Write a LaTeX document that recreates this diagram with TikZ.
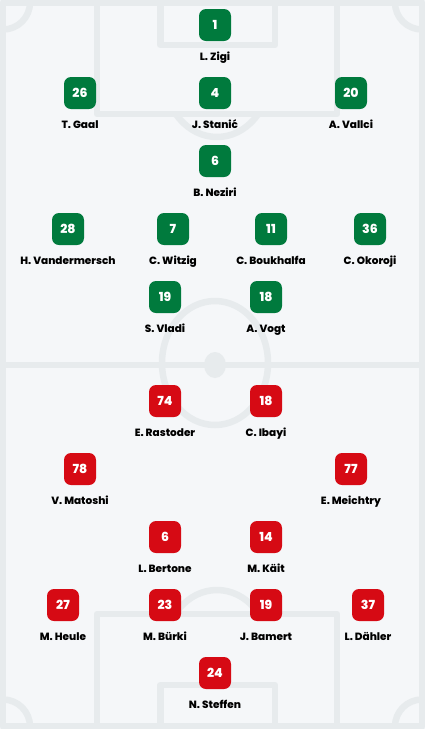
\documentclass[tikz,border=0pt]{standalone}
\usepackage{fontspec}
\setmainfont{Poppins}[BoldFont = {Poppins ExtraBold}]
\usetikzlibrary{positioning}

\definecolor{pitchbg}{RGB}{245,247,249}
\definecolor{pitchline}{RGB}{231,235,237}
\definecolor{homegreen}{RGB}{0,122,61}
\definecolor{awayred}{RGB}{214,10,20}

\begin{document}
\begin{tikzpicture}[x = 1pt, y = -1pt,
	pitch/.style = {draw = pitchline, line width = 6.5pt, line join = round},
	chip/.style = {rounded corners = 7pt, minimum size = 32pt, inner sep = 0pt, text = white, font = \bfseries\fontsize{12.5}{12.5}\selectfont},
	greenchip/.style = {chip, fill = homegreen},
	redchip/.style = {chip, fill = awayred},
	playername/.style = {anchor = base, inner sep = 0pt, font = \bfseries\fontsize{10.5}{10.5}\selectfont}]
	\fill [pitchbg] (0, 0) rectangle (425, 729);
	\useasboundingbox (0, 0) rectangle (425, 729);
	% pitch markings
	\draw [pitch] (3, 2.5) rectangle (422, 726.5);
	\draw [pitch] (3, 365) -- (422, 365);
	\draw [pitch] (215, 363) ellipse [x radius = 53pt, y radius = 62pt];
	\fill [pitchline] (215, 365) ellipse [x radius = 11pt, y radius = 13pt];
	\draw [pitch] (97, 2.5) -- (97, 114) -- (337, 114) -- (337, 2.5);
	\draw [pitch] (160.5, 2.5) -- (160.5, 45) -- (275, 45) -- (275, 2.5);
	\draw [pitch] (97, 726.5) -- (97, 614) -- (337, 614) -- (337, 726.5);
	\draw [pitch] (160.5, 726.5) -- (160.5, 685) -- (275, 685) -- (275, 726.5);
	\begin{scope}
		\clip (0, 114) rectangle (425, 614);
		\draw [pitch] (217, 75) ellipse [x radius = 53pt, y radius = 62pt];
		\draw [pitch] (217, 652) ellipse [x radius = 53pt, y radius = 62pt];
	\end{scope}
	\begin{scope}
		\clip (3, 2.5) rectangle (422, 726.5);
		\draw [pitch] (3, 2.5) circle (27pt);
		\draw [pitch] (422, 2.5) circle (27pt);
		\draw [pitch] (3, 726.5) circle (27pt);
		\draw [pitch] (422, 726.5) circle (27pt);
	\end{scope}
	% home side
	\foreach \id/\x/\y/\num/\name in {g1/215/25/1/L. Zigi, g26/80/93/26/T. Gaal, g4/215/93/4/J. Stanić, g20/351/93/20/A. Vallci, g6/215/161/6/B. Neziri, g28/68/229/28/H. Vandermersch, g7/173/229/7/C. Witzig, g11/271/229/11/C. Boukhalfa, g36/370/229/36/C. Okoroji, g19/165/297/19/S. Vladi, g18/266/297/18/A. Vogt}
	{
		\node [greenchip] (\id) at (\x, \y) {\num};
		\node [playername] (\id-name) at ([yshift = -35pt] \id.center) {\name};
	}
	% away side
	\foreach \id/\x/\y/\num/\name in {r74/165/401/74/E. Rastoder, r18/266/401/18/C. Ibayi, r78/80/469/78/V. Matoshi, r77/351/469/77/E. Meichtry, r6/165/537/6/L. Bertone, r14/266/537/14/M. Käit, r27/63/605/27/M. Heule, r23/165/605/23/M. Bürki, r19/266/605/19/J. Bamert, r37/368/605/37/L. Dähler, r24/215/673/24/N. Steffen}
	{
		\node [redchip] (\id) at (\x, \y) {\num};
		\node [playername] (\id-name) at ([yshift = -35pt] \id.center) {\name};
	}
\end{tikzpicture}
\end{document}
